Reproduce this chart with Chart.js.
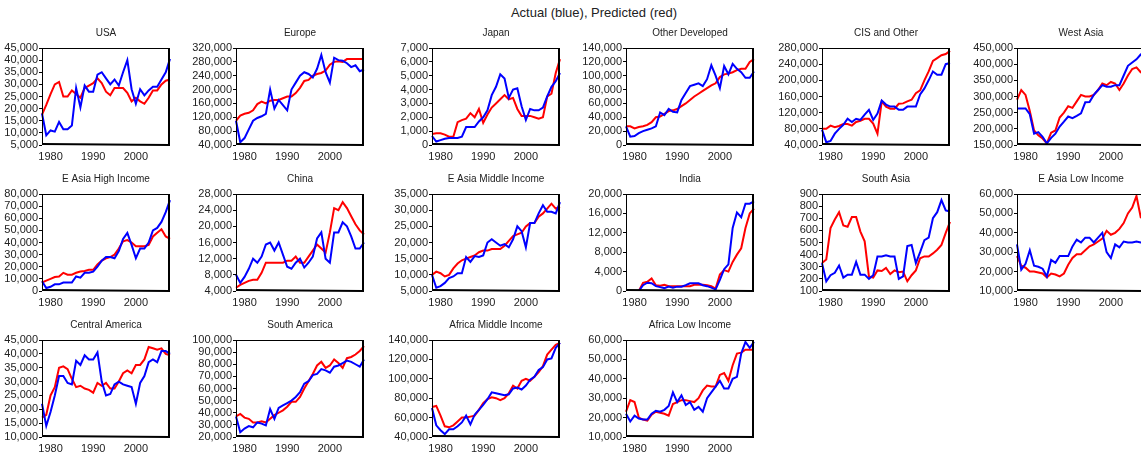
<!DOCTYPE html>
<html>
<head>
<meta charset="utf-8">
<title>Actual (blue), Predicted (red)</title>
<script src="https://cdn.jsdelivr.net/npm/chart.js@4.4.1/dist/chart.umd.min.js"></script>
<style>
    html, body { margin: 0; padding: 0; background: #fff; overflow: hidden; }
    #page { position: relative; width: 1141px; height: 453px; overflow: hidden; }
    #main-title {
        position: absolute; left: 0; top: 5px; width: 1188px; text-align: center;
        font-family: "Liberation Sans", Arial, sans-serif; font-size: 13px; color: #222;
    }
    canvas { position: absolute; }
</style>
</head>
<body>
<div id="page">
    <div id="main-title">Actual (blue), Predicted (red)</div>
</div>
<script>
// Years on the x axis
const years = [1978, 1979, 1980, 1981, 1982, 1983, 1984, 1985, 1986, 1987, 1988, 1989, 1990, 1991, 1992, 1993,
    1994, 1995, 1996, 1997, 1998, 1999, 2000, 2001, 2002, 2003, 2004, 2005, 2006, 2007, 2008];
const decadeTicks = [1980, 1990, 2000];

// Actual (blue) and predicted (red) values per region
const usaActual = [18000, 9000, 11000, 10500, 14500, 11500, 11500, 13000, 28500, 20500, 29500, 27000, 27000, 34000, 35000, 32500, 30000, 32000, 29500, 35000, 40000, 28000, 22000, 28000, 25500, 27500, 29000, 29000, 32000, 35000, 40500];
const usaPredicted = [17500, 21500, 26000, 30000, 31000, 25000, 25000, 27500, 26000, 24500, 28500, 29500, 30500, 32500, 30500, 27000, 25500, 28500, 28500, 28500, 26500, 23000, 24500, 23000, 22000, 24500, 27500, 27500, 30000, 31500, 32000];

const europeActual = [110000, 48000, 60000, 85000, 110000, 118000, 123000, 130000, 200000, 145000, 170000, 155000, 140000, 200000, 220000, 240000, 250000, 245000, 235000, 260000, 300000, 250000, 220000, 292000, 285000, 283000, 276000, 265000, 270000, 253000, 258000];
const europePredicted = [110000, 125000, 130000, 133000, 140000, 158000, 165000, 160000, 168000, 170000, 170000, 175000, 180000, 180000, 190000, 205000, 225000, 228000, 240000, 245000, 248000, 255000, 272000, 280000, 282000, 280000, 288000, 288000, 288000, 288000, 288000];

const japanActual = [650, 250, 350, 450, 500, 500, 500, 600, 1300, 1300, 1300, 1700, 2000, 2500, 3600, 4200, 5100, 4800, 3400, 4000, 4100, 2800, 1800, 2600, 2500, 2500, 2700, 3500, 4200, 4600, 5200];
const japanPredicted = [800, 850, 850, 750, 600, 600, 1650, 1800, 1900, 2300, 2000, 2600, 1600, 2200, 2700, 3000, 3300, 3600, 3300, 3400, 2600, 2100, 2100, 2100, 2000, 1900, 2000, 3500, 3700, 5200, 6200];

const otherDevActual = [27000, 12000, 13000, 17000, 20000, 22000, 24000, 27000, 47000, 43000, 52000, 48000, 47000, 65000, 75000, 85000, 87000, 89000, 85000, 95000, 115000, 100000, 82000, 114000, 102000, 117000, 110000, 105000, 97000, 97000, 106000];
const otherDevPredicted = [27000, 27000, 24000, 26000, 27000, 29000, 33000, 40000, 41000, 45000, 49000, 50000, 52000, 56000, 60000, 65000, 70000, 74000, 78000, 82000, 86000, 89000, 98000, 102000, 103000, 105000, 108000, 110000, 110000, 120000, 124000];

const cisActual = [78000, 47000, 50000, 68000, 80000, 90000, 105000, 97000, 105000, 102000, 115000, 127000, 102000, 118000, 150000, 140000, 135000, 135000, 127000, 127000, 135000, 135000, 135000, 165000, 180000, 200000, 222000, 214000, 214000, 240000, 243000];
const cisPredicted = [80000, 80000, 88000, 84000, 87000, 92000, 92000, 88000, 97000, 100000, 105000, 105000, 93000, 68000, 148000, 135000, 130000, 130000, 142000, 143000, 148000, 152000, 168000, 175000, 200000, 222000, 248000, 255000, 262000, 265000, 273000];

const westAsiaActual = [263000, 263000, 263000, 245000, 185000, 190000, 175000, 155000, 172000, 185000, 207000, 222000, 238000, 233000, 240000, 248000, 282000, 283000, 305000, 320000, 335000, 330000, 330000, 335000, 335000, 365000, 395000, 405000, 415000, 430000, 435000];
const westAsiaPredicted = [290000, 320000, 305000, 255000, 195000, 180000, 170000, 155000, 188000, 195000, 235000, 250000, 270000, 265000, 285000, 305000, 300000, 300000, 305000, 320000, 340000, 335000, 345000, 340000, 320000, 340000, 365000, 385000, 390000, 375000, 372000];

const eAsiaHighActual = [8000, 2500, 3500, 5500, 5500, 7000, 7000, 7000, 12000, 11000, 15000, 15000, 16000, 20000, 25000, 28000, 28000, 27000, 33000, 43000, 48000, 38000, 27000, 35000, 35000, 40000, 50000, 52000, 57000, 65000, 75000];
const eAsiaHighPredicted = [7000, 8500, 10000, 11500, 12000, 15000, 13500, 13500, 15000, 16000, 16500, 17500, 17500, 22000, 25000, 27000, 28000, 30000, 35000, 41000, 42000, 40000, 37000, 37000, 37000, 38000, 45000, 48000, 51000, 45000, 43000];

const chinaActual = [8000, 6000, 7500, 9500, 12000, 11000, 12500, 15500, 16000, 14000, 16000, 13000, 10000, 9500, 11000, 12000, 9800, 11000, 12500, 17000, 18500, 12000, 11000, 18500, 18500, 21000, 20000, 17500, 14500, 14500, 16000];
const chinaPredicted = [4800, 5500, 6000, 6500, 6800, 6800, 8500, 11000, 11000, 11000, 11000, 11000, 11500, 11500, 12500, 11000, 11000, 12500, 14000, 15500, 14500, 13500, 18500, 24500, 24000, 26000, 24500, 22500, 20500, 19000, 18000];

const eAsiaMidActual = [10000, 6000, 6500, 7500, 9000, 9500, 10500, 10500, 15500, 14000, 15800, 15500, 16000, 20000, 21000, 20000, 19000, 19500, 18500, 21000, 25000, 23500, 18500, 26000, 26000, 29000, 31500, 29500, 29500, 29000, 32500];
const eAsiaMidPredicted = [10000, 11000, 10500, 9500, 10000, 12000, 13500, 14500, 15000, 15500, 16000, 17000, 17500, 17500, 18000, 18000, 18000, 19000, 20500, 22000, 22500, 23000, 25000, 26000, 26000, 28000, 29000, 30500, 32000, 30500, 31000];

const indiaActual = [0, 0, 0, 0, 1200, 1700, 1600, 1000, 800, 600, 900, 700, 900, 900, 1200, 1600, 1600, 1600, 1200, 1000, 700, 300, 2300, 4500, 5500, 13000, 16200, 15200, 18000, 18000, 18500];
const indiaPredicted = [0, 0, 0, 0, 1700, 1900, 2600, 1200, 1100, 1300, 1000, 1000, 1000, 1000, 1000, 1000, 1300, 1300, 1300, 1200, 1000, 500, 3400, 4300, 4000, 6000, 7500, 8800, 13000, 16000, 17000];

const southAsiaActual = [330, 180, 230, 250, 310, 210, 235, 235, 340, 235, 235, 200, 230, 385, 385, 395, 385, 385, 200, 220, 470, 480, 330, 420, 520, 540, 700, 750, 850, 765, 755];
const southAsiaPredicted = [330, 360, 620, 690, 750, 640, 630, 710, 710, 590, 510, 220, 210, 270, 265, 290, 240, 270, 255, 260, 180, 230, 270, 370, 385, 385, 410, 440, 480, 580, 670];

const eAsiaLowActual = [34000, 21000, 24000, 31000, 23000, 22500, 21500, 17500, 26000, 24500, 28000, 28000, 28000, 33000, 36500, 35000, 37500, 37500, 35000, 37500, 40000, 30000, 27000, 34000, 32500, 35500, 35000, 35000, 35500, 35000, 35000];
const eAsiaLowPredicted = [28000, 23000, 22000, 20000, 20000, 19500, 19000, 17000, 19000, 18500, 17500, 19000, 23500, 27000, 29000, 29000, 31000, 33000, 34000, 35500, 37000, 41000, 39000, 40000, 42000, 45000, 50000, 53000, 59000, 48000, 47000];

const centralAmActual = [22000, 14000, 19000, 25000, 32000, 32000, 29500, 29000, 37500, 36000, 39500, 38000, 38000, 40500, 30000, 25000, 25500, 29000, 30000, 29000, 28500, 28000, 22000, 29500, 32000, 37000, 38000, 37000, 41000, 41000, 40000];
const centralAmPredicted = [17000, 18000, 25000, 28000, 35000, 35500, 34500, 31000, 28000, 28500, 27500, 27000, 26000, 29500, 28500, 29500, 27500, 27500, 30000, 33000, 34000, 33000, 36000, 36000, 38000, 42500, 42000, 41500, 42000, 40000, 39500];

const southAmActual = [37000, 24000, 27000, 29000, 28000, 32000, 31000, 29500, 43000, 35000, 44000, 46000, 48000, 50000, 53000, 57000, 64000, 66000, 71000, 72000, 76000, 75000, 73000, 78000, 79000, 81000, 83000, 82000, 80000, 78000, 84000];
const southAmPredicted = [37000, 39000, 36000, 35000, 32000, 32000, 33000, 32000, 35000, 38000, 40000, 42000, 45000, 49000, 49000, 53000, 60000, 66000, 72000, 79000, 82000, 77000, 79000, 84000, 81000, 77000, 85000, 86000, 88000, 91000, 95000];

const africaMidActual = [70000, 52000, 47000, 43000, 48000, 48000, 51000, 55000, 62000, 53000, 63000, 68000, 73000, 79000, 86000, 85000, 84000, 83000, 84000, 90000, 91000, 89000, 93000, 99000, 102000, 109000, 112000, 120000, 121000, 132000, 137000];
const africaMidPredicted = [71000, 72000, 62000, 51000, 50000, 52000, 56000, 60000, 60000, 61000, 62000, 68000, 75000, 79000, 81000, 80000, 78000, 80000, 85000, 93000, 90000, 98000, 100000, 98000, 102000, 107000, 113000, 125000, 130000, 135000, 137000];

const africaLowActual = [22000, 18000, 21000, 19500, 19000, 19000, 22000, 23500, 23000, 24000, 26000, 33000, 28000, 31500, 26500, 28000, 24000, 25500, 23000, 30000, 33000, 36000, 39000, 35000, 35000, 40000, 41000, 53000, 59000, 56000, 59000];
const africaLowPredicted = [23000, 29000, 28000, 20000, 19000, 18500, 21500, 23000, 22500, 22000, 21000, 27000, 28000, 29000, 29000, 28500, 28000, 30000, 34000, 36500, 36000, 36000, 42000, 43000, 39000, 47000, 53000, 53500, 55000, 55000, 55000];

// Panel titles and y axis ranges, in reading order (6 per row)
const panelTitles = ['USA', 'Europe', 'Japan', 'Other Developed', 'CIS and Other', 'West Asia',
    'E Asia High Income', 'China', 'E Asia Middle Income', 'India', 'South Asia', 'E Asia Low Income',
    'Central America', 'South America', 'Africa Middle Income', 'Africa Low Income'];
const actualSeries = [usaActual, europeActual, japanActual, otherDevActual, cisActual, westAsiaActual,
    eAsiaHighActual, chinaActual, eAsiaMidActual, indiaActual, southAsiaActual, eAsiaLowActual,
    centralAmActual, southAmActual, africaMidActual, africaLowActual];
const predictedSeries = [usaPredicted, europePredicted, japanPredicted, otherDevPredicted, cisPredicted, westAsiaPredicted,
    eAsiaHighPredicted, chinaPredicted, eAsiaMidPredicted, indiaPredicted, southAsiaPredicted, eAsiaLowPredicted,
    centralAmPredicted, southAmPredicted, africaMidPredicted, africaLowPredicted];
const yMin = [5000, 40000, 0, 0, 40000, 150000, 0, 4000, 5000, 0, 100, 10000, 10000, 20000, 40000, 10000];
const yMax = [45000, 320000, 7000, 140000, 280000, 450000, 80000, 28000, 35000, 20000, 900, 60000, 45000, 100000, 140000, 60000];
const yStep = [5000, 40000, 1000, 20000, 40000, 50000, 10000, 4000, 5000, 4000, 100, 10000, 5000, 10000, 20000, 10000];

// Layout of the grid (plot area positions in page pixels)
const colLeft = [42, 236, 432, 626, 822, 1017];
const rowTop = [48, 194, 340];
const plotW = 130;
const plotH = 97;
const yAxisW = 46;
const titleH = 24;
const xAxisH = 18;
const padRight = 3;

const FONT = '"Liberation Sans", Arial, sans-serif';
const TEXT = '#222';

// Draw a box round the plot area
const framePlugin = {
    id: 'frame',
    afterDraw(chart) {
        const { ctx, chartArea } = chart;
        const { left, top, right, bottom } = chartArea;
        ctx.save();
        ctx.strokeStyle = '#000';
        ctx.lineWidth = 1;
        ctx.strokeRect(left + 0.5, top + 0.5, right - left - 1, bottom - top - 1);
        // heavier right and bottom edges
        ctx.lineWidth = 2;
        ctx.beginPath();
        ctx.moveTo(right - 1, top);
        ctx.lineTo(right - 1, bottom);
        ctx.lineTo(left, bottom - 1);
        ctx.stroke();
        ctx.restore();
    }
};

function createPanel(i) {
    const col = i % 6;
    const row = Math.floor(i / 6);
    const canvas = document.createElement('canvas');
    const w = yAxisW + plotW + padRight;
    const h = titleH + plotH + xAxisH;
    canvas.width = w;
    canvas.height = h;
    canvas.style.width = w + 'px';
    canvas.style.height = h + 'px';
    canvas.style.left = (colLeft[col] - yAxisW) + 'px';
    canvas.style.top = (rowTop[row] - titleH) + 'px';
    document.getElementById('page').appendChild(canvas);

    new Chart(canvas, {
        type: 'line',
        data: {
            labels: years,
            datasets: [
                { label: 'Actual', data: actualSeries[i], borderColor: '#0000ff', borderWidth: 2 },
                { label: 'Predicted', data: predictedSeries[i], borderColor: '#ff0000', borderWidth: 2 }
            ]
        },
        options: {
            responsive: false,
            animation: false,
            events: [],
            layout: { padding: { left: 0, right: padRight, top: 0, bottom: 0 } },
            elements: {
                point: { radius: 0 },
                line: { tension: 0, borderJoinStyle: 'miter' }
            },
            plugins: {
                legend: { display: false },
                tooltip: { enabled: false },
                title: {
                    display: true,
                    text: panelTitles[i],
                    fullSize: false,
                    color: TEXT,
                    font: { family: FONT, size: 10, weight: 'normal', lineHeight: 1.2 },
                    padding: { top: 3, bottom: 9 }
                }
            },
            scales: {
                x: {
                    type: 'category',
                    offset: false,
                    grid: { display: false, drawTicks: false, tickLength: 0 },
                    border: { display: false },
                    ticks: {
                        autoSkip: false,
                        maxRotation: 0,
                        padding: 5,
                        color: TEXT,
                        font: { family: FONT, size: 11 },
                        callback: function(val) {
                            const yr = Number(this.getLabelForValue(val));
                            return decadeTicks.includes(yr) ? String(yr) : '';
                        }
                    },
                    afterFit: (scale) => { scale.height = xAxisH; }
                },
                y: {
                    min: yMin[i],
                    max: yMax[i],
                    grid: { display: true, drawOnChartArea: false, drawTicks: true, tickLength: 3, color: '#000' },
                    border: { display: false },
                    ticks: {
                        stepSize: yStep[i],
                        autoSkip: false,
                        padding: 1,
                        color: TEXT,
                        font: { family: FONT, size: 11, lineHeight: 1 },
                        callback: (v) => v.toLocaleString('en-US')
                    },
                    afterFit: (scale) => { scale.width = yAxisW; }
                }
            }
        },
        plugins: [framePlugin]
    });
}

panelTitles.forEach((_, i) => createPanel(i));
</script>
</body>
</html>
